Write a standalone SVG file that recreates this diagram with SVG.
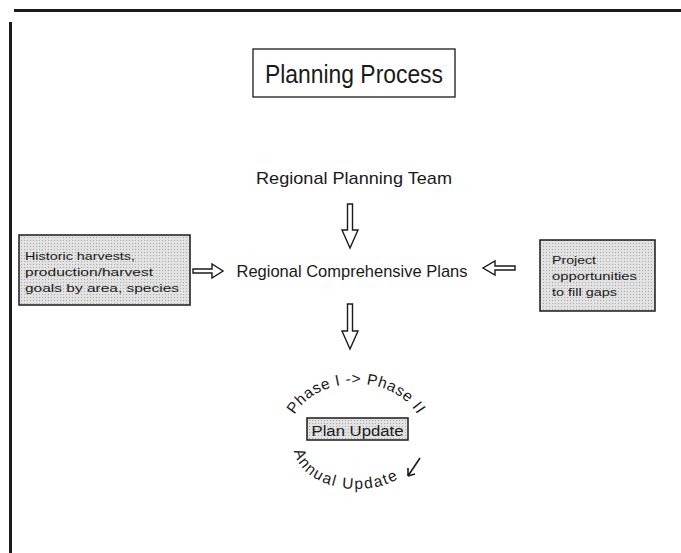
<svg xmlns="http://www.w3.org/2000/svg" width="681" height="553" viewBox="0 0 681 553">
<style>
text{font-family:"Liberation Sans","DejaVu Sans",Arial,sans-serif;fill:#1a1a1a}
.lbl{font-size:17px}
.small{font-size:11.5px}
.arc{font-size:15.5px;letter-spacing:0.6px}
.arr{fill:#fff;stroke:#1a1a1a;stroke-width:1.4;stroke-linejoin:miter}
</style>
<defs>
<pattern id="dots" width="3" height="3" patternUnits="userSpaceOnUse">
<rect width="3" height="3" fill="#e2e2e2"/>
<rect width="1" height="1" fill="#a8a8a8"/>
</pattern>
<path id="arcTop" d="M292,419.5 A68,54 0 0 1 420,419.5"/>
<path id="arcBot" d="M294,447 A63,42 0 0 0 420,447"/>
</defs>
<rect width="681" height="553" fill="#fff"/>
<g id="frame">
<line x1="14" y1="10.5" x2="681" y2="10.5" stroke="#1a1a1a" stroke-width="3"/>
<line x1="10.5" y1="22" x2="10.5" y2="553" stroke="#1a1a1a" stroke-width="3"/>
</g>
<g id="title">
<rect x="253" y="49" width="202" height="48" fill="#fff" stroke="#1a1a1a" stroke-width="1.3"/>
<text x="354" y="83" text-anchor="middle" font-size="25" textLength="178" lengthAdjust="spacingAndGlyphs">Planning Process</text>
</g>
<g id="team">
<text class="lbl" x="354" y="184" text-anchor="middle" textLength="196" lengthAdjust="spacingAndGlyphs">Regional Planning Team</text>
</g>
<g id="plans">
<text class="lbl" x="352" y="277" text-anchor="middle" textLength="231" lengthAdjust="spacingAndGlyphs">Regional Comprehensive Plans</text>
</g>
<g id="historic">
<rect x="19" y="235" width="171" height="70" fill="url(#dots)" stroke="#1a1a1a" stroke-width="1.5"/>
<text class="small" x="25" y="260" textLength="110" lengthAdjust="spacingAndGlyphs">Historic harvests,</text>
<text class="small" x="25" y="276" textLength="128" lengthAdjust="spacingAndGlyphs">production/harvest</text>
<text class="small" x="25" y="292" textLength="154" lengthAdjust="spacingAndGlyphs">goals by area, species</text>
</g>
<g id="project">
<rect x="540" y="240" width="115" height="71" fill="url(#dots)" stroke="#1a1a1a" stroke-width="1.5"/>
<text class="small" x="552" y="264" textLength="44" lengthAdjust="spacingAndGlyphs">Project</text>
<text class="small" x="552" y="280" textLength="85" lengthAdjust="spacingAndGlyphs">opportunities</text>
<text class="small" x="552" y="296" textLength="65" lengthAdjust="spacingAndGlyphs">to fill gaps</text>
</g>
<g id="update">
<rect x="307" y="418" width="101" height="22" fill="url(#dots)" stroke="#1a1a1a" stroke-width="1.5"/>
<text x="357.5" y="436" text-anchor="middle" font-size="14" textLength="92" lengthAdjust="spacingAndGlyphs">Plan Update</text>
<text class="arc"><textPath href="#arcTop" startOffset="50%" text-anchor="middle">Phase I -&gt; Phase II</textPath></text>
<text class="arc"><textPath href="#arcBot" startOffset="4" style="letter-spacing:1.6px">Annual Update</textPath></text>
<path d="M420,458 L408,476 M408,476 L408,468 M408,476 L415,474" fill="none" stroke="#1a1a1a" stroke-width="1.6"/>
</g>
<g id="connectors">
<path class="arr" d="M347.5,204 H352.5 V230 H358 L350,248 L342,230 H347.5 Z"/>
<path class="arr" d="M347.5,304 H352.5 V331 H358 L350,349 L342,331 H347.5 Z"/>
<path class="arr" d="M193,269 H212 V264 L223,271 L212,278 V273 H193 Z"/>
<path class="arr" d="M515,266 H495 V261 L483,268 L495,275 V270 H515 Z"/>
</g>
</svg>
